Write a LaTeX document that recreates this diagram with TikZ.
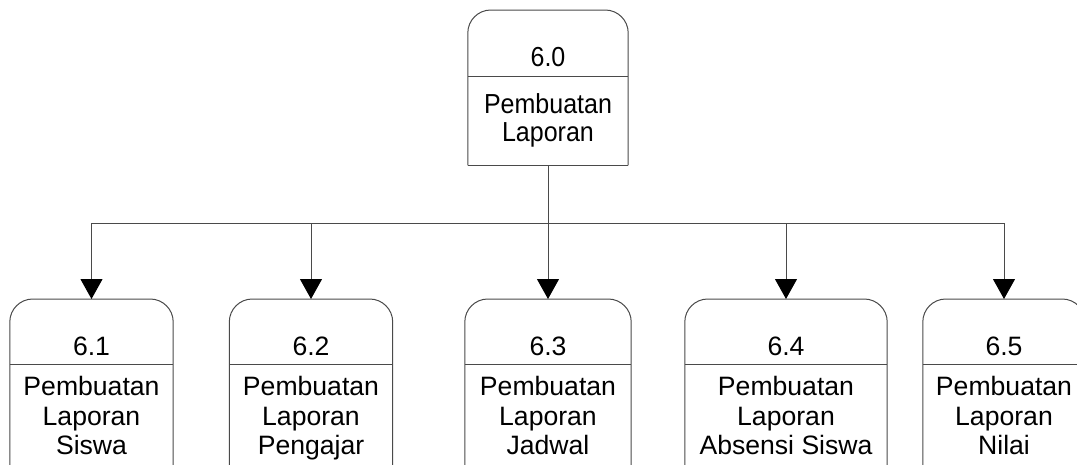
\documentclass[tikz,border=0pt]{standalone}
\usepackage{fontspec}
\setmainfont{Liberation Sans}
\newfontfamily\narrowsans{Liberation Sans}[FakeStretch=0.91]
\usetikzlibrary{arrows.meta}
\definecolor{edgegray}{HTML}{4A4A4A}
\tikzset{
  procbox/.style={rectangle, draw=none, inner sep=0pt, anchor=north},
  outline/.style={draw=edgegray, line width=1pt},
  txt/.style={anchor=base, inner sep=0pt, text=black, font=\fontsize{26.6}{30}\selectfont},
  toptxt/.style={txt, font=\narrowsans\fontsize{27.5}{30}\selectfont},
  link/.style={draw=edgegray, line width=1pt},
  flow/.style={link, -{Triangle[width=22pt,length=20pt,fill=black,color=black]}},
}
\begin{document}
\begin{tikzpicture}[x=1pt,y=-1pt]
  \useasboundingbox (0,0) rectangle (1077,464);
  \clip (0,0) rectangle (1077,464);

  % parent process
  \node[procbox, minimum width=160pt, minimum height=155pt] (p60) at (548,10) {};
  % child processes (bottoms run past the page edge)
  \node[procbox, minimum width=163pt, minimum height=190pt] (p61) at (91.5,299) {};
  \node[procbox, minimum width=163pt, minimum height=190pt] (p62) at (311,299) {};
  \node[procbox, minimum width=166pt, minimum height=190pt] (p63) at (548,299) {};
  \node[procbox, minimum width=202pt, minimum height=190pt] (p64) at (786,299) {};
  \node[procbox, minimum width=162pt, minimum height=190pt] (p65) at (1004,299) {};

  % outlines: rounded top, header divider
  \foreach \n/\d in {60/66,61/65,62/65,63/65,64/65,65/65}{
    \draw[outline, rounded corners=23pt] (p\n.south west) -- (p\n.north west) -- (p\n.north east) -- (p\n.south east);
    \draw[outline] ([yshift=-\d pt]p\n.north west) -- ([yshift=-\d pt]p\n.north east);
  }
  \draw[outline] (p60.south west) -- (p60.south east);

  % connectors
  \coordinate (bus) at (548,223);
  \draw[link] (p60.south) -- (bus);
  \draw[link] (p61.north |- bus) -- (p65.north |- bus);
  \foreach \n in {61,62,63,64,65}{
    \draw[flow] (p\n.north |- bus) -- (p\n.north);
  }

  % parent texts
  \node[toptxt] (t60a) at (548,66) {6.0};
  \node[toptxt] (t60b) at (548,113.3) {Pembuatan};
  \node[toptxt] (t60c) at (548,141.7) {Laporan};

  % child texts
  \foreach \n/\x/\num/\last in {61/91.5/6.1/Siswa, 62/311/6.2/Pengajar, 63/548/6.3/Jadwal, 64/786/6.4/Absensi Siswa, 65/1004/6.5/Nilai}{
    \node[txt] (t\n a) at (\x,355) {\num};
    \node[txt] (t\n b) at (\x,395.7) {Pembuatan};
    \node[txt] (t\n c) at (\x,425) {Laporan};
    \node[txt] (t\n d) at (\x,454.5) {\last};
  }
\end{tikzpicture}
\end{document}
